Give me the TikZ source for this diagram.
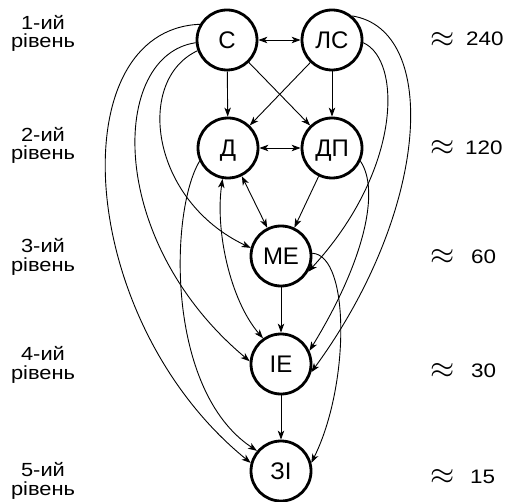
\documentclass[tikz,border=0pt]{standalone}
\usepackage{fontspec}
\setmainfont{Liberation Sans}
\newfontfamily\sidefont{Liberation Sans}[FakeStretch=1.15]
\usetikzlibrary{arrows.meta}
\begin{document}
\begin{tikzpicture}[x=1pt,y=-1pt,
  lvl/.style={circle, draw, line width=2.8pt, minimum size=60pt, inner sep=0pt,
    font=\fontsize{24}{24}\selectfont, text height=17.2pt, text depth=0pt},
  tip/.tip={Stealth[length=9pt,width=6.5pt,inset=2.5pt]},
  edge/.style={line width=0.9pt, -tip},
  bedge/.style={line width=0.9pt, tip-tip},
  side/.style={inner sep=0pt, anchor=base, font=\sidefont\fontsize{19}{19}\selectfont},
  approx/.style={inner sep=0pt, scale=1.25, font=\fontsize{24.88}{25}\selectfont},
  num/.style={inner sep=0pt, anchor=base west, font=\sidefont\fontsize{19.5}{19.5}\selectfont}]
\useasboundingbox (0,0) rectangle (505,502);

% nodes
\node[lvl] (S)  at (227,40)  {С};
\node[lvl] (LS) at (332,40)  {ЛС};
\node[lvl] (D)  at (228,148) {Д};
\node[lvl] (DP) at (332,148) {ДП};
\node[lvl] (ME) at (281,256) {МЕ};
\node[lvl] (IE) at (281,364) {ІЕ};
\node[lvl] (ZI) at (281,471) {ЗІ};

% straight connectors
\draw[bedge] (S) -- (LS);
\draw[bedge] (D) -- (DP);
\draw[edge] (S) -- (D);
\draw[edge] (LS) -- (DP);
\draw[edge] (S) -- (DP);
\draw[edge] (LS) -- (D);
\draw[bedge] (D) -- (ME);
\draw[edge] (DP) -- (ME);
\draw[edge] (ME) -- (IE);
\draw[edge] (IE) -- (ZI);

% curved connectors, left side
\draw[edge] (S.150) .. controls (60,30) and (75,320) .. (ZI.165);
\draw[edge] (S.185) .. controls (110,55) and (105,240) .. (IE.175);
\draw[edge] (S.200) .. controls (135,80) and (150,200) .. (ME.165);
\draw[edge] (D.205) .. controls (170,210) and (165,390) .. (ZI.140);
\draw[bedge] (D.-100) .. controls (215,230) and (230,300) .. (IE.125);

% curved connectors, right side
\draw[edge] (LS.-5) .. controls (402,60) and (402,170) .. (ME.-30);
\draw[edge] (LS.50) .. controls (440,30) and (430,210) .. (IE.-15);
\draw[edge] (DP.-25) .. controls (380,190) and (365,260) .. (IE.25);
\draw[edge] (ME.5) .. controls (350,255) and (350,385) .. (ZI.15);

% level labels
\node[side] (l1a) at (43,29.5)  {1-ий};
\node[side] (l1b) at (43,48)    {рівень};
\node[side] (l2a) at (43,141.5) {2-ий};
\node[side] (l2b) at (43,160)   {рівень};
\node[side] (l3a) at (43,253)   {3-ий};
\node[side] (l3b) at (43,271.5) {рівень};
\node[side] (l4a) at (43,360.5) {4-ий};
\node[side] (l4b) at (43,379)   {рівень};
\node[side] (l5a) at (43,476.5) {5-ий};
\node[side] (l5b) at (43,495)   {рівень};

% counts
\node[approx] (a1) at (443,39.5)  {$\approx$};
\node[num]    (n1) at (466,46)    {240};
\node[approx] (a2) at (443,148)   {$\approx$};
\node[num]    (n2) at (465,155)   {120};
\node[approx] (a3) at (443,256.5) {$\approx$};
\node[num]    (n3) at (471,263)   {60};
\node[approx] (a4) at (443,371)   {$\approx$};
\node[num]    (n4) at (471,377)   {30};
\node[approx] (a5) at (443,476.5) {$\approx$};
\node[num]    (n5) at (470,483)   {15};
\end{tikzpicture}
\end{document}
